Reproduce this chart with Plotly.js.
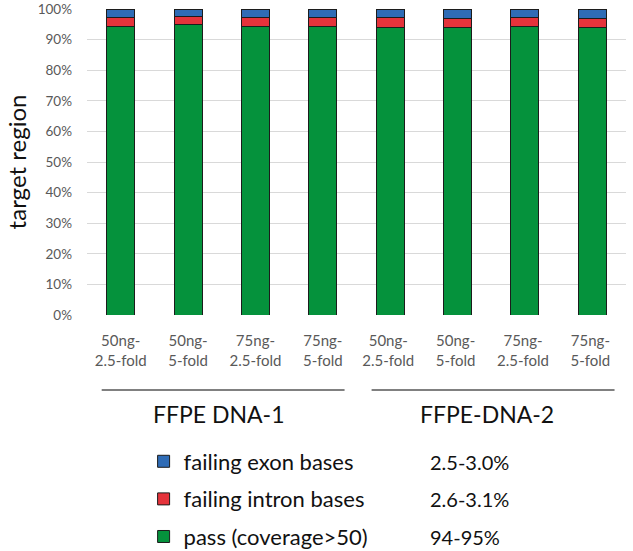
<!DOCTYPE html>
<html>
<head>
<meta charset="utf-8">
<script src="https://cdn.plot.ly/plotly-3.0.1.min.js"></script>
<style>html,body{margin:0;padding:0;background:#fff;}#chart{width:633px;height:551px;}</style>
</head>
<body>
<div id="chart"></div>
<script>
var categories = ["50ng-<br>2.5-fold","50ng-<br>5-fold","75ng-<br>2.5-fold","75ng-<br>5-fold","50ng- <br>2.5-fold ","50ng- <br>5-fold ","75ng- <br>2.5-fold ","75ng- <br>5-fold "];
var passValues = [94.2, 94.9, 94.2, 94.2, 94.1, 93.9, 94.2, 93.9];
var intronValues = [3.1, 2.6, 3.0, 3.0, 3.1, 3.1, 3.1, 3.1];
var exonValues = [2.7, 2.5, 2.8, 2.8, 2.8, 3.0, 2.7, 3.0];
var seriesNames = ["pass (coverage>50)", "failing intron bases", "failing exon bases"];
var seriesRanges = ["94-95%", "2.6-3.1%", "2.5-3.0%"];
var groupLabels = ["FFPE DNA-1", "FFPE-DNA-2"];

var font = "Lato, 'Open Sans', sans-serif";
var colors = ["#05923c", "#e5333b", "#2f6cb6"];
var values = [passValues, intronValues, exonValues];
var traces = values.map(function(v, i){
  return {
    type: "bar", x: categories, y: v, name: seriesNames[i],
    legendgroup: "g" + i, legendrank: 3 - i,
    marker: {color: colors[i], line: {color: "#1c1c1c", width: 1}},
    width: 0.415
  };
});

var rowY = [-0.7255, -0.6013, -0.4804];
var annotations = seriesRanges.map(function(t, i){
  return {xref: "paper", yref: "paper", x: 0.6327, y: rowY[i], xanchor: "left", yanchor: "middle",
          text: t, showarrow: false, font: {family: font, size: 20, color: "#111"}};
});
annotations.push({xref: "x", yref: "paper", x: 1.454, y: -0.3235, text: groupLabels[0], showarrow: false,
  xanchor: "center", yanchor: "middle", font: {family: font, size: 23, color: "#111"}});
annotations.push({xref: "x", yref: "paper", x: 5.43, y: -0.3235, text: groupLabels[1], showarrow: false,
  xanchor: "center", yanchor: "middle", font: {family: font, size: 23, color: "#111"}});

var layout = {
  width: 633, height: 551,
  margin: {l: 87, r: 7, t: 9, b: 236},
  paper_bgcolor: "#fff", plot_bgcolor: "#fff",
  barmode: "stack",
  font: {family: font},
  xaxis: {
    type: "category", showgrid: false, zeroline: false, showline: false,
    tickfont: {family: font, size: 15, color: "#595959"},
    ticks: "", ticklabelstandoff: 15, automargin: false
  },
  yaxis: {
    range: [0, 100], dtick: 10, ticksuffix: "%",
    showgrid: true, gridcolor: "#d9d9d9", gridwidth: 1, zeroline: false,
    tickfont: {family: font, size: 13.5, color: "#595959"},
    ticklabelstandoff: 14, automargin: false,
    title: {text: "target region", font: {family: font, size: 24, color: "#111"}, standoff: 4}
  },
  shapes: [
    {type: "line", xref: "x", yref: "paper", x0: -0.282, x1: 3.323, y0: -0.245, y1: -0.245, line: {color: "#808080", width: 2}},
    {type: "line", xref: "x", yref: "paper", x0: 3.724, x1: 7.33, y0: -0.245, y1: -0.245, line: {color: "#808080", width: 2}}
  ],
  annotations: annotations,
  showlegend: true,
  legend: {
    orientation: "v", traceorder: "grouped", tracegroupgap: 6,
    xref: "paper", yref: "container",
    x: 0.105, y: 0.0944, xanchor: "left", yanchor: "middle",
    font: {family: font, size: 22, color: "#111"},
    bgcolor: "rgba(0,0,0,0)", itemwidth: 30
  }
};
Plotly.newPlot("chart", traces, layout, {displayModeBar: false, staticPlot: true});
</script>
</body>
</html>
